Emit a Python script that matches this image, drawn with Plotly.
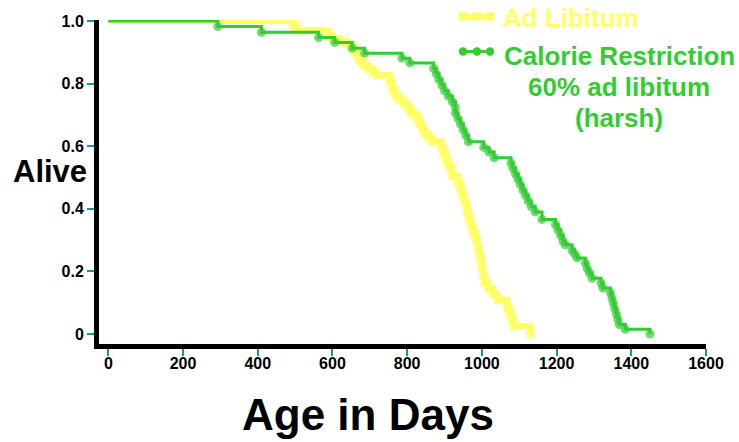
import plotly.graph_objects as go

# ---- data ----
adlib_days = [0, 496, 505, 590, 600, 620, 640, 654, 660, 668, 675, 685, 698, 710, 720,
              755, 762, 770, 780, 792, 803, 810, 818, 827, 833, 840, 848, 858, 868,
              892, 898, 905, 912, 921, 937, 943, 948, 954, 961, 966, 972, 978, 986,
              990, 995, 1000, 1004, 1008, 1018, 1030, 1042, 1068, 1075, 1081, 1087, 1130]
adlib_alive = [1.0, 0.985, 0.970, 0.955, 0.945, 0.935, 0.925, 0.914, 0.900, 0.885, 0.870,
               0.858, 0.846, 0.835, 0.827, 0.805, 0.780, 0.760, 0.748, 0.735, 0.722, 0.710,
               0.700, 0.690, 0.672, 0.655, 0.640, 0.628, 0.615, 0.595, 0.575, 0.555, 0.535,
               0.505, 0.485, 0.465, 0.445, 0.420, 0.390, 0.370, 0.345, 0.322, 0.300, 0.275,
               0.245, 0.215, 0.190, 0.165, 0.145, 0.128, 0.109, 0.085, 0.065, 0.045, 0.025, 0.0]

cr_days = [0, 293, 410, 563, 606, 653, 686, 786, 807,
           871, 878, 885, 893, 900, 910, 921,
           929, 929, 936, 943, 950, 957, 964,
           1005, 1019, 1033,
           1078, 1083, 1090, 1097, 1103, 1110, 1117, 1124, 1132, 1143, 1161,
           1197, 1204, 1211, 1217, 1223,
           1241, 1248, 1255, 1277, 1282, 1288, 1295,
           1319, 1324,
           1344, 1348, 1352, 1356, 1360, 1364, 1368, 1384, 1450]
cr_alive = [1.0, 0.982, 0.964, 0.947, 0.931, 0.913, 0.897, 0.881, 0.866,
            0.848, 0.831, 0.813, 0.795, 0.777, 0.760, 0.742,
            0.724, 0.706, 0.688, 0.670, 0.652, 0.634, 0.614,
            0.596, 0.581, 0.563,
            0.546, 0.529, 0.511, 0.494, 0.477, 0.459, 0.442, 0.425, 0.407, 0.390, 0.366,
            0.349, 0.331, 0.314, 0.297, 0.285,
            0.268, 0.256, 0.243, 0.226, 0.209, 0.195, 0.178,
            0.163, 0.147,
            0.132, 0.115, 0.098, 0.081, 0.064, 0.047, 0.030, 0.015, 0.0]

x_ticks = [0, 200, 400, 600, 800, 1000, 1200, 1400, 1600]
y_ticks = [0, 0.2, 0.4, 0.6, 0.8, 1.0]
y_ticktext = ["0", "0.2", "0.4", "0.6", "0.8", "1.0"]

name_adlib = "Ad Libitum"
name_cr = ["Calorie Restriction", "60% ad libitum", "(harsh)"]

YELLOW = "#ffff66"
GREEN = "#33cc33"
TEAL = "#109a9a"
FONT = "Liberation Sans"

W, H = 739, 442
L, R, T, B = 99, 33, 20, 98
PW, PH = W - L - R, H - T - B


def px(xp):
    return (xp - L) / PW


def py(yp):
    return (H - B - yp) / PH


fig = go.Figure()

fig.add_trace(go.Scatter(
    x=adlib_days, y=adlib_alive, mode="lines+markers", line_shape="hv",
    line=dict(color=YELLOW, width=6),
    marker=dict(symbol="square", color=YELLOW, size=[0] + [9] * (len(adlib_days) - 1),
                line=dict(width=0)),
    showlegend=False, hoverinfo="skip"))

fig.add_trace(go.Scatter(
    x=cr_days, y=cr_alive, mode="lines+markers", line_shape="hv",
    line=dict(color=GREEN, width=3),
    marker=dict(symbol="circle", color=GREEN, size=[0] + [9] * (len(cr_days) - 1),
                line=dict(width=0)),
    showlegend=False, hoverinfo="skip"))

shapes = []
# legend glyphs
for yp, col, kind, lw in [(16.5, YELLOW, "square", 6), (51.5, GREEN, "circle", 3)]:
    shapes.append(dict(type="line", xref="paper", yref="paper",
                       x0=px(462), x1=px(491), y0=py(yp), y1=py(yp),
                       line=dict(color=col, width=lw)))
    for xc in (463, 477, 490):
        r = 4.2
        shapes.append(dict(type="rect" if kind == "square" else "circle",
                           xref="paper", yref="paper",
                           x0=px(xc - r), x1=px(xc + r), y0=py(yp + r), y1=py(yp - r),
                           fillcolor=col, line=dict(color=col, width=0)))

annotations = [
    dict(text=name_adlib, xref="paper", yref="paper", x=px(501), y=py(18),
         xanchor="left", yanchor="middle", showarrow=False,
         font=dict(family=FONT, size=26, color=YELLOW, weight="bold")),
]
for i, line in enumerate(name_cr):
    annotations.append(dict(text=line, xref="paper", yref="paper", x=px(619), y=py(56 + 31 * i),
                            xanchor="center", yanchor="middle", showarrow=False,
                            font=dict(family=FONT, size=26, color=GREEN, weight="bold")))
annotations.append(dict(text="Alive", xref="paper", yref="paper", x=px(50), y=py(171),
                        xanchor="center", yanchor="middle", showarrow=False,
                        font=dict(family=FONT, size=31, color="black", weight="bold")))
annotations.append(dict(text="Age in Days", xref="paper", yref="paper", x=px(368), y=py(414),
                        xanchor="center", yanchor="middle", showarrow=False,
                        font=dict(family=FONT, size=44, color="black", weight="bold")))

fig.update_layout(
    width=W, height=H,
    margin=dict(l=L, r=R, t=T, b=B, pad=0),
    paper_bgcolor="white", plot_bgcolor="white",
    shapes=shapes, annotations=annotations,
    xaxis=dict(range=[-25, 1600], tickvals=x_ticks, showgrid=False, zeroline=False,
               showline=True, linecolor="black", linewidth=5,
               ticks="outside", ticklen=7, tickwidth=2, tickcolor=TEAL,
               ticklabelstandoff=-6,
               tickfont=dict(family=FONT, size=16, color="black", weight="bold")),
    yaxis=dict(range=[-0.032, 1.003], tickvals=y_ticks, ticktext=y_ticktext,
               showgrid=False, zeroline=False,
               showline=True, linecolor="black", linewidth=5,
               ticks="outside", ticklen=7, tickwidth=2, tickcolor=TEAL,
               tickfont=dict(family=FONT, size=16, color="black", weight="bold")),
)

fig.write_html("out.html", config={"displayModeBar": False},
               post_script="document.body.style.margin='0px';")
